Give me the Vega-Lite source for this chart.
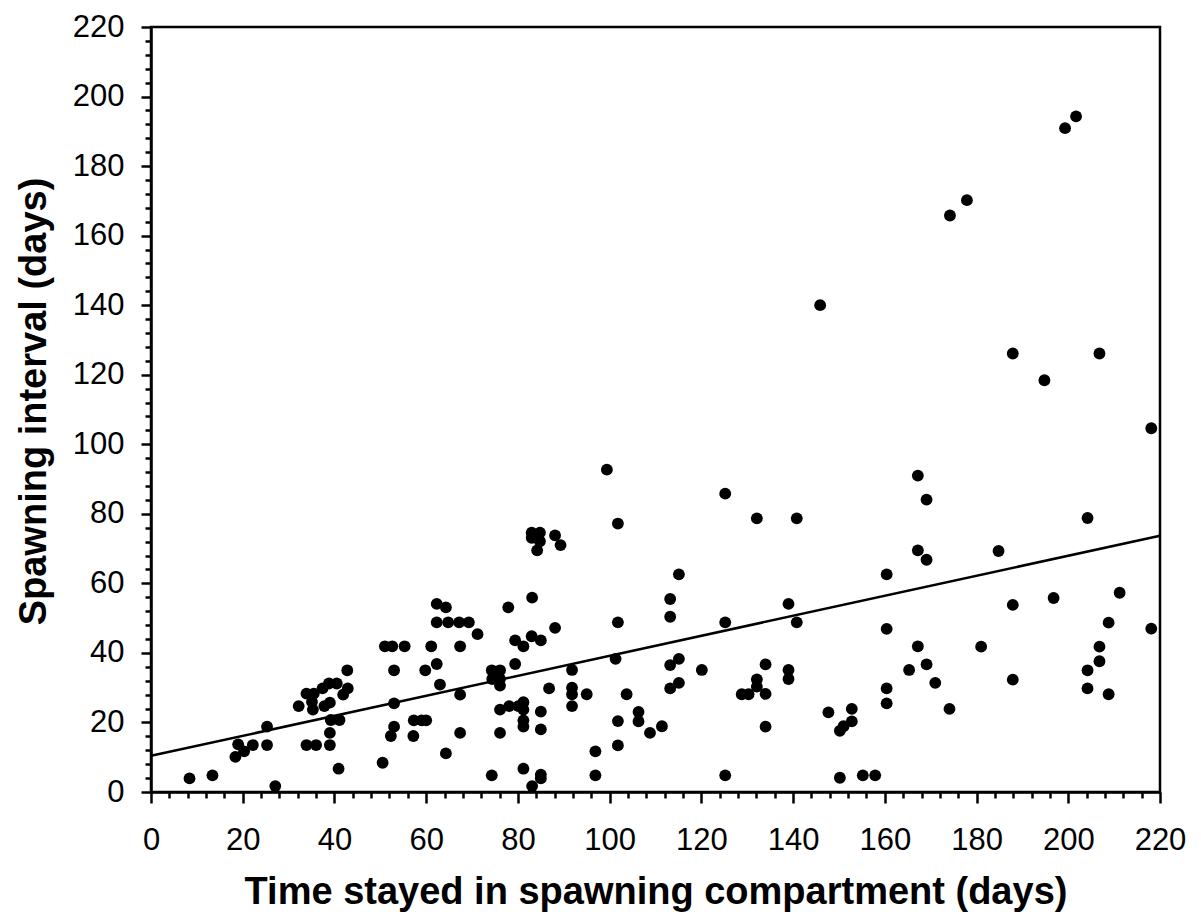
{
  "$schema": "https://vega.github.io/schema/vega-lite/v6.json",
  "width": 1009,
  "height": 765,
  "autosize": {"type": "none"},
  "padding": {"left": 151, "top": 27, "right": 41, "bottom": 127},
  "background": "white",
  "config": {
    "view": {"stroke": "black", "strokeWidth": 2.5},
    "axis": {
      "labelFont": "Liberation Sans",
      "labelFontSize": 31,
      "labelColor": "black",
      "titleFont": "Liberation Sans",
      "titleFontSize": 38,
      "titleFontWeight": "bold",
      "titleColor": "black",
      "domainColor": "black",
      "domainWidth": 2.5,
      "tickColor": "black",
      "tickWidth": 2.5,
      "grid": false
    }
  },
  "resolve": {"axis": {"x": "independent", "y": "independent"}},
  "layer": [
    {
      "data": {
        "values": [
          {"time": 8.4, "interval": 3.9}, {"time": 13.4, "interval": 4.8}, {"time": 18.4, "interval": 10.1},
          {"time": 19.0, "interval": 13.7}, {"time": 20.3, "interval": 11.7}, {"time": 22.2, "interval": 13.5},
          {"time": 25.3, "interval": 18.8}, {"time": 25.3, "interval": 13.5}, {"time": 27.1, "interval": 1.7},
          {"time": 32.2, "interval": 24.7}, {"time": 33.9, "interval": 28.3}, {"time": 33.9, "interval": 13.5},
          {"time": 35.1, "interval": 25.9}, {"time": 35.3, "interval": 23.7}, {"time": 35.5, "interval": 28.3},
          {"time": 36.0, "interval": 13.5}, {"time": 37.4, "interval": 29.8}, {"time": 37.8, "interval": 24.7},
          {"time": 38.8, "interval": 31.2}, {"time": 39.0, "interval": 25.7}, {"time": 39.2, "interval": 20.7},
          {"time": 39.0, "interval": 17.0}, {"time": 39.0, "interval": 13.5}, {"time": 40.5, "interval": 31.2},
          {"time": 41.1, "interval": 20.7}, {"time": 40.9, "interval": 6.7}, {"time": 41.9, "interval": 28.0},
          {"time": 42.9, "interval": 29.8}, {"time": 42.8, "interval": 35.0}, {"time": 50.5, "interval": 8.4},
          {"time": 51.0, "interval": 41.9}, {"time": 52.6, "interval": 41.9}, {"time": 53.0, "interval": 35.0},
          {"time": 53.0, "interval": 25.5}, {"time": 53.0, "interval": 18.8}, {"time": 52.3, "interval": 16.1},
          {"time": 55.3, "interval": 41.9}, {"time": 57.3, "interval": 20.6}, {"time": 57.2, "interval": 16.1},
          {"time": 59.0, "interval": 20.6}, {"time": 60.0, "interval": 20.6}, {"time": 59.8, "interval": 35.0},
          {"time": 61.1, "interval": 41.9}, {"time": 62.3, "interval": 36.8}, {"time": 62.3, "interval": 48.8},
          {"time": 62.3, "interval": 54.1}, {"time": 63.0, "interval": 30.9}, {"time": 64.3, "interval": 53.1},
          {"time": 64.3, "interval": 11.1}, {"time": 64.8, "interval": 48.8}, {"time": 67.2, "interval": 48.8},
          {"time": 67.4, "interval": 41.9}, {"time": 67.4, "interval": 28.0}, {"time": 67.4, "interval": 17.0},
          {"time": 69.3, "interval": 48.8}, {"time": 71.2, "interval": 45.4}, {"time": 74.3, "interval": 35.0},
          {"time": 74.4, "interval": 32.5}, {"time": 76.1, "interval": 35.0}, {"time": 76.1, "interval": 32.5},
          {"time": 76.1, "interval": 30.6}, {"time": 74.3, "interval": 4.8}, {"time": 76.1, "interval": 23.7},
          {"time": 76.1, "interval": 17.0}, {"time": 77.9, "interval": 53.1}, {"time": 78.1, "interval": 24.7},
          {"time": 79.4, "interval": 36.8}, {"time": 79.4, "interval": 43.6}, {"time": 80.1, "interval": 24.7},
          {"time": 81.2, "interval": 41.9}, {"time": 81.2, "interval": 25.8}, {"time": 81.2, "interval": 23.7},
          {"time": 81.2, "interval": 20.6}, {"time": 81.2, "interval": 18.8}, {"time": 81.2, "interval": 6.7},
          {"time": 83.1, "interval": 55.9}, {"time": 83.0, "interval": 44.8}, {"time": 83.1, "interval": 1.7},
          {"time": 83.0, "interval": 74.6}, {"time": 83.0, "interval": 73.1}, {"time": 84.8, "interval": 74.6},
          {"time": 84.8, "interval": 72.1}, {"time": 84.2, "interval": 69.5}, {"time": 85.0, "interval": 43.6},
          {"time": 85.0, "interval": 23.1}, {"time": 85.0, "interval": 18.0}, {"time": 85.0, "interval": 5.0},
          {"time": 85.0, "interval": 3.9}, {"time": 86.8, "interval": 29.8}, {"time": 88.1, "interval": 73.8},
          {"time": 88.1, "interval": 47.2}, {"time": 89.3, "interval": 71.0}, {"time": 99.4, "interval": 92.7},
          {"time": 101.8, "interval": 77.2}, {"time": 91.8, "interval": 35.1}, {"time": 91.8, "interval": 30.0},
          {"time": 91.8, "interval": 28.1}, {"time": 91.8, "interval": 24.7}, {"time": 95.0, "interval": 28.1},
          {"time": 96.9, "interval": 11.7}, {"time": 96.9, "interval": 4.8}, {"time": 101.8, "interval": 48.8},
          {"time": 101.3, "interval": 38.3}, {"time": 101.8, "interval": 20.4}, {"time": 101.8, "interval": 13.4},
          {"time": 103.7, "interval": 28.1}, {"time": 106.3, "interval": 23.0}, {"time": 106.3, "interval": 20.3},
          {"time": 108.8, "interval": 17.0}, {"time": 111.4, "interval": 18.9}, {"time": 113.2, "interval": 55.5},
          {"time": 113.2, "interval": 50.4}, {"time": 115.1, "interval": 62.6}, {"time": 113.2, "interval": 36.5},
          {"time": 115.1, "interval": 38.3}, {"time": 113.2, "interval": 29.8}, {"time": 115.1, "interval": 31.4},
          {"time": 120.1, "interval": 35.1}, {"time": 125.2, "interval": 85.8}, {"time": 125.2, "interval": 48.8},
          {"time": 125.2, "interval": 4.8}, {"time": 128.8, "interval": 28.1}, {"time": 130.3, "interval": 28.1},
          {"time": 132.1, "interval": 78.7}, {"time": 132.1, "interval": 32.4}, {"time": 132.1, "interval": 30.3},
          {"time": 134.0, "interval": 36.7}, {"time": 134.0, "interval": 28.2}, {"time": 134.0, "interval": 18.8},
          {"time": 139.0, "interval": 54.1}, {"time": 139.0, "interval": 35.1}, {"time": 139.0, "interval": 32.5},
          {"time": 140.8, "interval": 78.7}, {"time": 140.8, "interval": 48.8}, {"time": 147.7, "interval": 22.9},
          {"time": 150.2, "interval": 17.6}, {"time": 151.0, "interval": 18.9}, {"time": 152.8, "interval": 23.9},
          {"time": 152.8, "interval": 20.3}, {"time": 150.2, "interval": 4.1}, {"time": 155.2, "interval": 4.8},
          {"time": 157.9, "interval": 4.8}, {"time": 160.4, "interval": 62.6}, {"time": 160.4, "interval": 46.9},
          {"time": 160.4, "interval": 29.8}, {"time": 160.4, "interval": 25.5}, {"time": 167.2, "interval": 91.0},
          {"time": 169.1, "interval": 84.1}, {"time": 167.2, "interval": 69.5}, {"time": 169.1, "interval": 66.8},
          {"time": 167.2, "interval": 41.9}, {"time": 165.3, "interval": 35.1}, {"time": 169.1, "interval": 36.7},
          {"time": 171.0, "interval": 31.4}, {"time": 174.1, "interval": 23.9}, {"time": 145.9, "interval": 140.0},
          {"time": 174.2, "interval": 165.8}, {"time": 177.9, "interval": 170.2}, {"time": 199.3, "interval": 190.9},
          {"time": 201.7, "interval": 194.3}, {"time": 187.9, "interval": 126.1}, {"time": 206.8, "interval": 126.1},
          {"time": 194.8, "interval": 118.4}, {"time": 218.1, "interval": 104.6}, {"time": 204.2, "interval": 78.8},
          {"time": 184.8, "interval": 69.3}, {"time": 187.9, "interval": 53.8}, {"time": 196.8, "interval": 55.8},
          {"time": 211.2, "interval": 57.3}, {"time": 208.8, "interval": 48.7}, {"time": 218.1, "interval": 47.0},
          {"time": 181.0, "interval": 41.8}, {"time": 206.8, "interval": 41.8}, {"time": 206.8, "interval": 37.6},
          {"time": 204.2, "interval": 35.0}, {"time": 204.2, "interval": 29.8}, {"time": 208.8, "interval": 28.1},
          {"time": 187.9, "interval": 32.3}
        ]
      },
      "mark": {"type": "circle", "size": 140, "color": "black", "opacity": 1},
      "encoding": {
        "x": {
          "field": "time",
          "type": "quantitative",
          "scale": {"domain": [0, 220], "nice": false},
          "axis": {
            "orient": "bottom",
            "title": "Time stayed in spawning compartment (days)",
            "values": [0, 20, 40, 60, 80, 100, 120, 140, 160, 180, 200, 220],
            "tickSize": 11,
            "labelPadding": 22,
            "titlePadding": 18,
            "labelFlush": false
          }
        },
        "y": {
          "field": "interval",
          "type": "quantitative",
          "scale": {"domain": [0, 220], "nice": false},
          "axis": {
            "orient": "left",
            "title": "Spawning interval (days)",
            "values": [0, 20, 40, 60, 80, 100, 120, 140, 160, 180, 200, 220],
            "tickSize": 10,
            "labelPadding": 17,
            "titlePadding": 19,
            "titleY": 374,
            "labelFlush": false
          }
        }
      }
    },
    {
      "data": {
        "values": [
          {"time": 0, "interval": 10.4},
          {"time": 220, "interval": 73.7}
        ]
      },
      "mark": {"type": "line", "color": "black", "strokeWidth": 2.5},
      "encoding": {
        "x": {
          "field": "time",
          "type": "quantitative",
          "scale": {"domain": [0, 220], "nice": false},
          "axis": {
            "orient": "bottom",
            "title": null,
            "labels": false,
            "domain": false,
            "tickSize": 6,
            "values": [4, 8, 12, 16, 24, 28, 32, 36, 44, 48, 52, 56, 64, 68, 72, 76, 84, 88, 92, 96, 104, 108, 112, 116, 124, 128, 132, 136, 144, 148, 152, 156, 164, 168, 172, 176, 184, 188, 192, 196, 204, 208, 212, 216]
          }
        },
        "y": {
          "field": "interval",
          "type": "quantitative",
          "scale": {"domain": [0, 220], "nice": false},
          "axis": {
            "orient": "left",
            "title": null,
            "labels": false,
            "domain": false,
            "tickSize": 6,
            "values": [4, 8, 12, 16, 24, 28, 32, 36, 44, 48, 52, 56, 64, 68, 72, 76, 84, 88, 92, 96, 104, 108, 112, 116, 124, 128, 132, 136, 144, 148, 152, 156, 164, 168, 172, 176, 184, 188, 192, 196, 204, 208, 212, 216]
          }
        }
      }
    }
  ]
}
